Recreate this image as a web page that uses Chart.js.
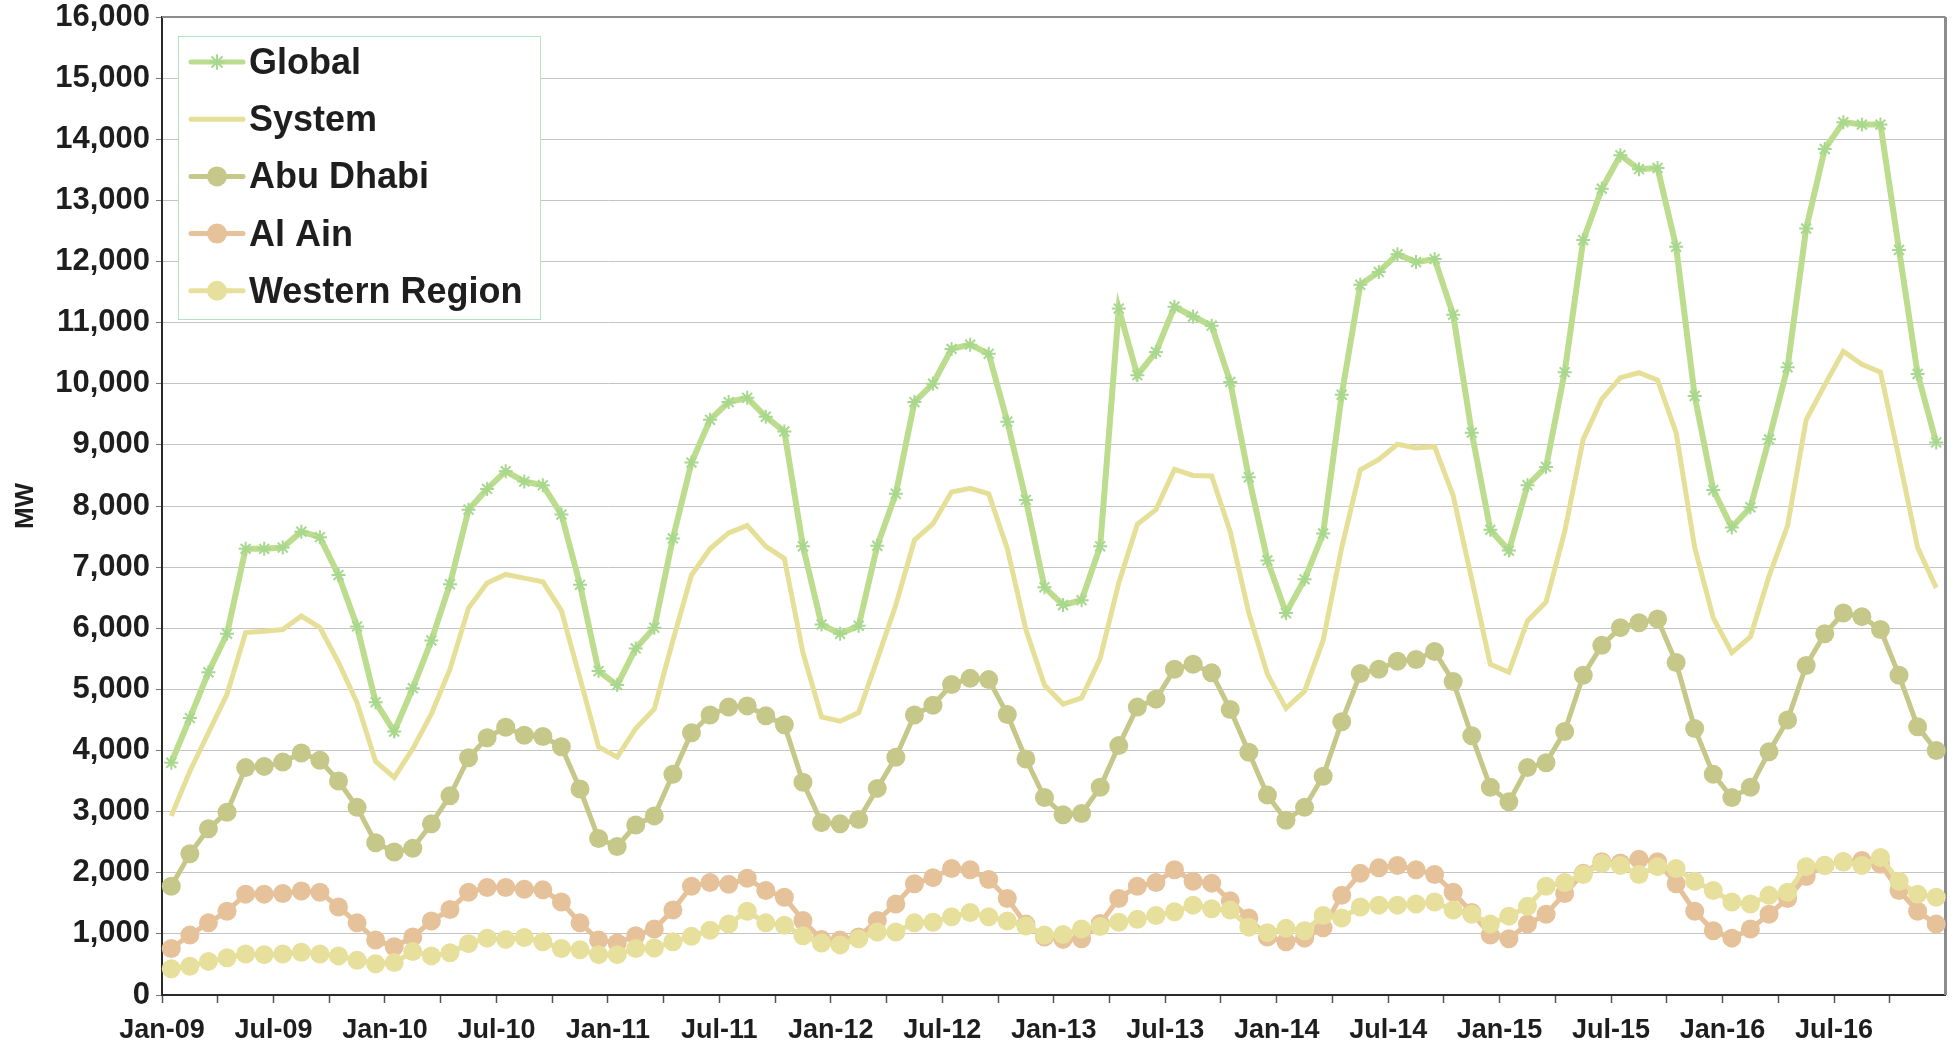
<!DOCTYPE html>
<html>
<head>
<meta charset="utf-8">
<script src="https://cdn.jsdelivr.net/npm/chart.js@4"></script>
<style>
  html, body { margin: 0; padding: 0; background: #fff; }
  #wrap { width: 1955px; height: 1046px; position: relative; }
</style>
</head>
<body>
<div id="wrap"><canvas id="peakChart"></canvas></div>
<script>
// monthly peak load, MW (Jan-09 .. Dec-16)
const months = ['Jan','Feb','Mar','Apr','May','Jun','Jul','Aug','Sep','Oct','Nov','Dec'];
const years = ['09','10','11','12','13','14','15','16'];

const globalLoad = [
  3800, 4530, 5280, 5910, 7300, 7300, 7320, 7580, 7490, 6870, 6030, 4790,
  4310, 5020, 5800, 6720, 7940, 8280, 8570, 8400, 8340, 7860, 6710, 5300,
  5070, 5670, 6010, 7470, 8710, 9410, 9700, 9770, 9460, 9220, 7340, 6060,
  5910, 6040, 7350, 8200, 9700, 10000, 10570, 10640, 10490, 9380, 8100, 6670,
  6380, 6460, 7340, 11230, 10140, 10520, 11260, 11100, 10950, 10030, 8470, 7110,
  6250, 6800, 7550, 9820, 11620, 11830, 12120, 11990, 12040, 11130, 9200, 7610,
  7270, 8340, 8640, 10190, 12350, 13190, 13740, 13510, 13530, 12240, 9800, 8260,
  7650, 7980, 9090, 10270, 12540, 13840, 14280, 14240, 14240, 12190, 10160, 9040
];
const systemLoad = [
  2930, 3660, 4290, 4920, 5930, 5950, 5980, 6200, 6010, 5440, 4780, 3820,
  3560, 4030, 4600, 5330, 6330, 6740, 6880, 6820, 6760, 6290, 5180, 4060,
  3890, 4360, 4680, 5800, 6870, 7300, 7560, 7680, 7340, 7140, 5600, 4550,
  4480, 4620, 5490, 6380, 7440, 7710, 8230, 8290, 8200, 7300, 5980, 5070,
  4760, 4860, 5510, 6740, 7700, 7940, 8600, 8500, 8490, 7580, 6250, 5250,
  4690, 4970, 5800, 7320, 8590, 8760, 9010, 8950, 8970, 8170, 6800, 5410,
  5280, 6120, 6430, 7580, 9090, 9750, 10100, 10180, 10060, 9200, 7320, 6170,
  5600, 5860, 6850, 7680, 9410, 9980, 10530, 10320, 10190, 8780, 7320, 6660
];
const abuDhabi = [
  1780, 2310, 2720, 2990, 3720, 3740, 3810, 3960, 3840, 3500, 3070, 2490,
  2340, 2400, 2800, 3260, 3880, 4210, 4380, 4250, 4230, 4060, 3370, 2560,
  2430, 2780, 2930, 3610, 4290, 4580, 4710, 4730, 4570, 4420, 3480, 2820,
  2800, 2870, 3380, 3890, 4580, 4740, 5080, 5180, 5160, 4590, 3860, 3230,
  2950, 2970, 3400, 4080, 4710, 4840, 5330, 5410, 5270, 4670, 3970, 3270,
  2860, 3070, 3580, 4470, 5260, 5330, 5460, 5490, 5620, 5130, 4240, 3400,
  3160, 3720, 3800, 4310, 5230, 5720, 6010, 6090, 6150, 5440, 4360, 3610,
  3230, 3400, 3980, 4500, 5390, 5910, 6250, 6190, 5980, 5230, 4390, 4000
];
const alAin = [
  760, 980, 1180, 1370, 1650, 1650, 1660, 1700, 1680, 1440, 1180, 900,
  790, 950, 1210, 1400, 1680, 1760, 1760, 1730, 1720, 1520, 1180, 900,
  850, 970, 1080, 1390, 1780, 1840, 1810, 1910, 1710, 1600, 1220, 910,
  900, 950, 1220, 1490, 1820, 1920, 2070, 2050, 1890, 1580, 1160, 950,
  910, 920, 1170, 1580, 1780, 1840, 2050, 1860, 1830, 1540, 1260, 950,
  870, 930, 1100, 1630, 1990, 2080, 2120, 2050, 1970, 1680, 1350, 980,
  920, 1160, 1320, 1660, 1990, 2180, 2160, 2220, 2180, 1820, 1370, 1050,
  930, 1080, 1320, 1580, 1940, 2120, 2180, 2200, 2140, 1710, 1370, 1160
];
const westernRegion = [
  430, 470, 550, 610, 670, 660, 670, 700, 670, 640, 570, 510,
  530, 710, 640, 690, 840, 930, 910, 940, 870, 760, 740, 660,
  660, 760, 770, 870, 960, 1060, 1160, 1370, 1180, 1140, 970, 850,
  820, 920, 1030, 1030, 1180, 1190, 1280, 1350, 1280, 1210, 1130, 980,
  990, 1080, 1120, 1190, 1240, 1300, 1360, 1470, 1410, 1390, 1110, 1020,
  1090, 1050, 1300, 1260, 1440, 1470, 1470, 1490, 1520, 1390, 1320, 1160,
  1290, 1450, 1780, 1840, 1970, 2150, 2120, 1970, 2100, 2070, 1860, 1710,
  1520, 1490, 1630, 1680, 2100, 2120, 2180, 2120, 2250, 1860, 1650, 1600
];

const categories = [];
years.forEach(y => months.forEach(m => categories.push(m + '-' + y)));

const FONT = "'Liberation Sans', Arial, sans-serif";
const TEXT = '#1e1e1e';

const COLORS = {
  global: '#bcdc8e',
  system: '#e6df98',
  abu: '#c6c88a',
  ain: '#e6c29a',
  west: '#e6e09c'
};

// grey box on top and right of the plot area
const frame = {
  id: 'frame',
  beforeDatasetsDraw(chart) {
    const a = chart.chartArea, ctx = chart.ctx;
    ctx.save();
    ctx.strokeStyle = '#8c8c8c';
    ctx.lineWidth = 2;
    ctx.beginPath();
    ctx.moveTo(a.left, a.top);
    ctx.lineTo(a.right, a.top);
    ctx.stroke();
    ctx.lineWidth = 3;
    ctx.beginPath();
    ctx.moveTo(a.right, a.top);
    ctx.lineTo(a.right, a.bottom);
    ctx.stroke();
    ctx.restore();
  }
};

// boxed legend in the top-left corner of the plot
const boxLegend = {
  id: 'boxLegend',
  afterDraw(chart) {
    const ctx = chart.ctx;
    const x0 = 178, y0 = 36, w = 362, h = 283;
    ctx.save();
    ctx.fillStyle = '#fff';
    ctx.fillRect(x0, y0, w, h);
    ctx.strokeStyle = '#b4e2c2';
    ctx.lineWidth = 1;
    ctx.strokeRect(x0 + 0.5, y0 + 0.5, w, h);
    chart.data.datasets.forEach((ds, i) => {
      const cy = 62 + i * 57.2;
      ctx.strokeStyle = ds.borderColor;
      ctx.lineWidth = 5;
      ctx.lineCap = 'round';
      ctx.beginPath();
      ctx.moveTo(191, cy);
      ctx.lineTo(243, cy);
      ctx.stroke();
      if (ds.pointRadius > 0) {
        ctx.fillStyle = ds.pointBackgroundColor;
        ctx.strokeStyle = ds.pointBorderColor;
        ctx.lineWidth = ds.pointBorderWidth;
        if (ds.pointStyle === 'circle') {
          ctx.beginPath();
          ctx.arc(217, cy, 10, 0, Math.PI * 2);
          ctx.fill();
        } else {
          Chart.helpers.drawPoint(ctx, { pointStyle: ds.pointStyle, radius: 7, borderWidth: 2 }, 217, cy);
        }
      }
      ctx.fillStyle = TEXT;
      ctx.font = 'bold 36px ' + FONT;
      ctx.textBaseline = 'middle';
      ctx.fillText(ds.label, 249, cy + 2);
    });
    ctx.restore();
  }
};

function circleSeries(label, data, color, order) {
  return {
    label: label,
    data: data,
    borderColor: color,
    backgroundColor: color,
    borderWidth: 5,
    pointStyle: 'circle',
    pointRadius: 9.5,
    pointBackgroundColor: color,
    pointBorderColor: color,
    pointBorderWidth: 0,
    tension: 0,
    order: order
  };
}

new Chart(document.getElementById('peakChart'), {
  type: 'line',
  data: {
    labels: categories,
    datasets: [
      {
        label: 'Global',
        data: globalLoad,
        borderColor: COLORS.global,
        backgroundColor: COLORS.global,
        borderWidth: 6,
        pointStyle: 'star',
        pointRadius: 7,
        pointBackgroundColor: '#a8d88e',
        pointBorderColor: '#a8d88e',
        pointBorderWidth: 2,
        tension: 0,
        order: 4
      },
      {
        label: 'System',
        data: systemLoad,
        borderColor: COLORS.system,
        backgroundColor: COLORS.system,
        borderWidth: 5,
        pointRadius: 0,
        tension: 0,
        order: 3
      },
      circleSeries('Abu Dhabi', abuDhabi, COLORS.abu, 2),
      circleSeries('Al Ain', alAin, COLORS.ain, 1),
      circleSeries('Western Region', westernRegion, COLORS.west, 0)
    ]
  },
  options: {
    responsive: true,
    maintainAspectRatio: false,
    animation: false,
    layout: { padding: { top: 17, right: 9, left: 0, bottom: 0 } },
    plugins: {
      legend: { display: false },
      tooltip: { enabled: false }
    },
    scales: {
      x: {
        type: 'category',
        offset: true,
        afterFit: s => { s.height = 51; },
        border: { color: '#2a2a2a', width: 2 },
        grid: {
          offset: true,
          drawOnChartArea: false,
          tickLength: 8,
          tickWidth: 1.5,
          tickColor: c => (c.index % 3 === 0 ? '#555' : 'rgba(0,0,0,0)')
        },
        ticks: {
          autoSkip: false,
          maxRotation: 0,
          minRotation: 0,
          padding: 11,
          labelOffset: -9.3,
          color: TEXT,
          font: { family: FONT, size: 27, weight: 'bold' },
          callback: function (value, index) {
            return index % 6 === 0 ? this.getLabelForValue(value) : '';
          }
        }
      },
      y: {
        min: 0,
        max: 16000,
        afterFit: s => { s.width = 162; s.paddingTop = 0; },
        border: { color: '#2a2a2a', width: 2 },
        grid: {
          color: c => (c.tick && c.tick.value === 16000 ? 'rgba(0,0,0,0)' : '#c4c4c4'),
          lineWidth: 1,
          tickLength: 6,
          tickColor: '#777'
        },
        ticks: {
          stepSize: 1000,
          padding: 6,
          color: TEXT,
          font: { family: FONT, size: 31, weight: 'bold' },
          callback: v => v.toLocaleString('en-US')
        },
        title: {
          display: true,
          text: 'MW',
          color: TEXT,
          padding: { top: 10, bottom: 0 },
          font: { family: FONT, size: 26, weight: 'bold' }
        }
      }
    }
  },
  plugins: [frame, boxLegend]
});
</script>
</body>
</html>
